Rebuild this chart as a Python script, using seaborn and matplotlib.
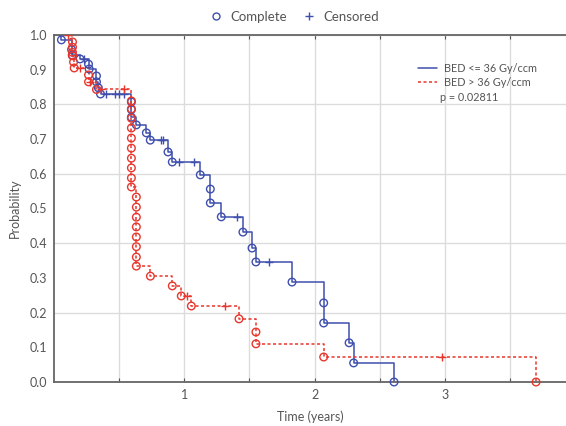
import numpy as np
import pandas as pd
import seaborn as sns
import matplotlib.pyplot as plt
from matplotlib.lines import Line2D

# BED <= 36 Gy/ccm : event times (years) and survival after each event
low_t = [0.057, 0.135, 0.14, 0.20, 0.265, 0.27, 0.326, 0.326, 0.34, 0.357,
         0.594, 0.594, 0.594, 0.632, 0.709, 0.739, 0.875, 0.908, 1.123, 1.20,
         1.20, 1.284, 1.45, 1.52, 1.55, 1.827, 2.07, 2.07, 2.265, 2.30, 2.61]
low_s = [0.986, 0.958, 0.942, 0.931, 0.916, 0.902, 0.882, 0.865, 0.848, 0.830,
         0.807, 0.785, 0.763, 0.741, 0.718, 0.697, 0.663, 0.634, 0.597, 0.556,
         0.516, 0.476, 0.432, 0.386, 0.346, 0.288, 0.228, 0.170, 0.113, 0.055, 0.0]
low_cens = [0.234, 0.397, 0.467, 0.50, 0.535, 0.82, 0.835, 0.96, 1.075, 1.405, 1.65]

# BED > 36 Gy/ccm
high_t = [0.142, 0.142, 0.142, 0.142, 0.15, 0.155, 0.265, 0.265, 0.326,
          0.594, 0.594, 0.594, 0.594, 0.594, 0.594, 0.594, 0.594, 0.594, 0.594,
          0.632, 0.632, 0.632, 0.632, 0.632, 0.632, 0.632, 0.632,
          0.74, 0.908, 0.977, 1.054, 1.42, 1.55, 1.55, 2.07, 3.70]
high_s = [0.980, 0.965, 0.950, 0.940, 0.922, 0.905, 0.885, 0.865, 0.843,
          0.810, 0.787, 0.760, 0.732, 0.703, 0.674, 0.645, 0.617, 0.588, 0.562,
          0.533, 0.504, 0.475, 0.447, 0.418, 0.390, 0.360, 0.334,
          0.305, 0.277, 0.248, 0.219, 0.182, 0.144, 0.110, 0.072, 0.0]
high_cens = [0.11, 0.20, 0.28, 0.357, 0.54, 1.023, 1.316, 2.98]

blue = '#3f4fae'
red = '#e8362c'
txt = '#555555'

sns.set_style('whitegrid')
plt.rcParams['font.family'] = ['Lato', 'DejaVu Sans']
plt.rcParams['font.size'] = 9

fig = plt.figure(figsize=(5.66, 4.26), dpi=100)
ax = fig.add_axes([54/566, 1-382/426, 1-54/566, (382-35)/426])


def censor_levels(t, s, cens):
    idx = np.searchsorted(t, cens, side='right')
    return [1.0 if i == 0 else s[i-1] for i in idx]


groups = [(low_t, low_s, low_cens, blue, '-'),
          (high_t, high_s, high_cens, red, (0, (2, 1.6)))]
for t, s, cens, c, ls in groups:
    line = pd.DataFrame({'t': [0.0] + t, 's': [1.0] + s})
    sns.lineplot(data=line, x='t', y='s', estimator=None, sort=False, ax=ax,
                 drawstyle='steps-post', color=c, linestyle=ls, linewidth=1.1)
    sns.scatterplot(x=t, y=s, marker='o', s=30, facecolors='none',
                    edgecolor=c, linewidth=1.0, ax=ax, zorder=4, clip_on=False)
    sns.scatterplot(x=cens, y=censor_levels(t, s, cens), marker='+', s=40,
                    color=c, linewidth=1.0, ax=ax, zorder=4)

ax.set_xlim(0, 3.93)
ax.set_ylim(0, 1.0)
ax.set_xticks(np.arange(0.5, 4.0, 0.5))
ax.set_xticklabels(['' if v % 1 else str(int(v)) for v in np.arange(0.5, 4.0, 0.5)])
ax.set_yticks(np.arange(0, 1.01, 0.1))
ax.set_yticklabels([f'{v:.1f}' for v in np.arange(0, 1.01, 0.1)])
ax.grid(color='#dcdcdc', linewidth=1.0)
for i, gl in enumerate(ax.get_ygridlines()):
    gl.set_visible(i % 2 == 0)
ax.tick_params(colors=txt, labelsize=9, direction='in', length=3,
               top=True, bottom=True, left=False, pad=5)
for side in ['left', 'bottom', 'top']:
    ax.spines[side].set_color('#666666')
    ax.spines[side].set_linewidth(1.3)
ax.spines['right'].set_visible(False)
ax.set_xlabel('Time (years)', color=txt, fontsize=9, labelpad=7)
ax.set_ylabel('Probability', color=txt, fontsize=9, labelpad=6)

h1 = Line2D([], [], color=blue, linewidth=1.1)
h2 = Line2D([], [], color=red, linestyle=(0, (2, 1.6)), linewidth=1.1)
leg = ax.legend([h1, h2], ['BED <= 36 Gy/ccm', 'BED > 36 Gy/ccm'],
                loc='upper left', bbox_to_anchor=(0.70, 0.935), frameon=False,
                handlelength=1.8, handletextpad=0.6, labelspacing=0.3,
                fontsize=7.8, borderpad=0)
for tx in leg.get_texts():
    tx.set_color(txt)
ax.text(0.753, 0.82, 'p = 0.02811', transform=ax.transAxes, color=txt,
        fontsize=7.8, va='center')

m1 = Line2D([], [], marker='o', linestyle='', markerfacecolor='none',
            markeredgecolor=blue, markersize=5)
m2 = Line2D([], [], marker='+', linestyle='', color=blue, markersize=6)
top = fig.legend([m1, m2], ['Complete', 'Censored'], loc='center',
                 bbox_to_anchor=(0.52, 0.96), ncol=2, frameon=False,
                 handlelength=1.0, handletextpad=0.6, columnspacing=1.2,
                 fontsize=9.5)
for tx in top.get_texts():
    tx.set_color(txt)

fig.savefig('out.png', dpi=100)
